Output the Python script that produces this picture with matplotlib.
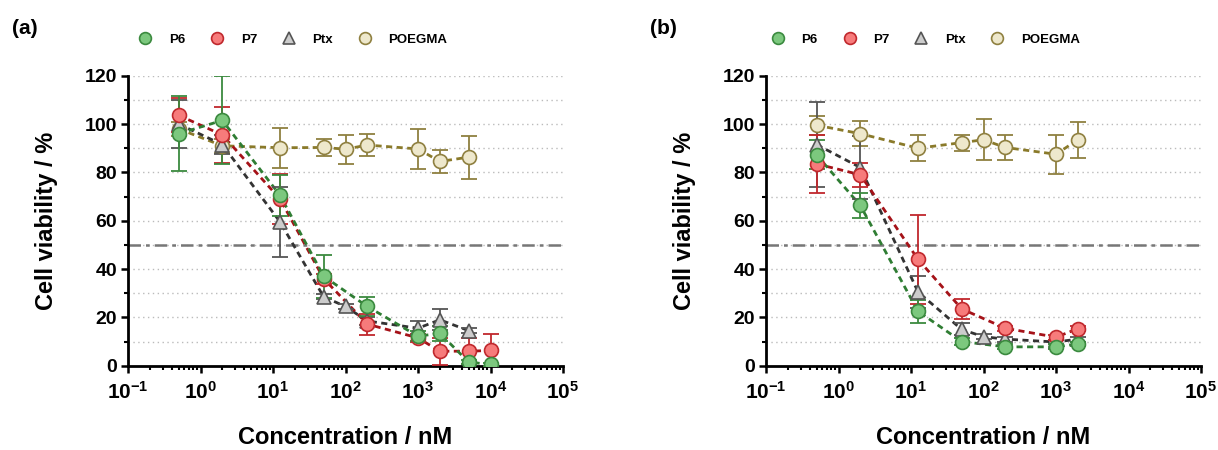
import numpy as np
import matplotlib
matplotlib.use("Agg")
import matplotlib.pyplot as plt
from matplotlib.lines import Line2D
from matplotlib.ticker import LogLocator, MultipleLocator, FuncFormatter

plt.rcParams["font.family"] = ["Liberation Sans", "DejaVu Sans"]
plt.rcParams["font.weight"] = "bold"
plt.rcParams["mathtext.fontset"] = "custom"
plt.rcParams["mathtext.rm"] = "Liberation Sans:bold"
plt.rcParams["mathtext.bf"] = "Liberation Sans:bold"
plt.rcParams["mathtext.default"] = "bf"

# ---- panel (a) data ----
conc_a_p = [0.5, 2, 12.5, 50, 200, 1000, 2000, 5000, 10000]
p6_a = [96, 101.5, 70.5, 37, 24.5, 12.2, 13.4, 1.5, 0.5]
p6_a_err = [15.5, 18.2, 8.6, 9, 4, 2, 3, 1, 0.5]
p7_a = [103.6, 95.5, 69, 36, 17.2, 11.5, 6, 6, 6.3]
p7_a_err = [7, 11.7, 10.5, 2, 4.4, 1.5, 5.6, 5.4, 6.7]
conc_a_ptx = [0.5, 2, 12.5, 50, 100, 200, 1000, 2000, 5000]
ptx_a = [100, 91.5, 59.5, 28.5, 24.5, 18.5, 15.5, 19, 14.5]
ptx_a_err = [10, 4, 14.5, 1, 1, 1.5, 3, 4.3, 1]
conc_a_peg = [0.5, 2, 12.5, 50, 100, 200, 1000, 2000, 5000]
peg_a = [98, 91, 90.2, 90.3, 89.6, 91.3, 89.7, 84.5, 86.3]
peg_a_err = [3, 3, 8.2, 3.5, 6, 4.5, 8.3, 4.6, 8.9]

# ---- panel (b) data ----
conc_b_p = [0.5, 2, 12.5, 50, 200, 1000, 2000]
p6_b = [87.2, 66.3, 22.5, 10, 7.8, 7.8, 9]
p6_b_err = [6, 5, 4.7, 1.5, 1, 1, 1]
p7_b = [83.5, 79, 44, 23.5, 15.5, 11.8, 15.3]
p7_b_err = [12, 5, 18.5, 4.3, 1, 1, 1]
conc_b_ptx = [0.5, 2, 12.5, 50, 100, 200, 1000, 2000]
ptx_b = [91.5, 82, 30.5, 15, 12, 11, 9.8, 11]
ptx_b_err = [17.5, 13, 6.5, 2.5, 1, 1, 1, 1]
conc_b_peg = [0.5, 2, 12.5, 50, 100, 200, 1000, 2000]
peg_b = [99.5, 96, 90, 92.3, 93.5, 90.3, 87.5, 93.5]
peg_b_err = [4, 5.2, 5.3, 3.3, 8.5, 5, 8, 7.5]

# styles: face, edge, line, marker
styles = {
    "P6": ("#7cc87e", "#3b8a3f", "#2f7d33", "o"),
    "P7": ("#f77b7b", "#c0282d", "#a51218", "o"),
    "Ptx": ("#cccccc", "#555555", "#333333", "^"),
    "POEGMA": ("#eee8cc", "#8f8040", "#8a7a2a", "o"),
}

fig = plt.figure(figsize=(12.18, 4.5), dpi=100)
ax_a = fig.add_axes([128 / 1218, 1 - 365.7 / 450, 435 / 1218, 290 / 450])
ax_b = fig.add_axes([766 / 1218, 1 - 365.7 / 450, 435 / 1218, 290 / 450])


def draw_series(ax, x, y, err, name):
    face, edge, line, mk = styles[name]
    ms = 10 if mk == "o" else 10.5
    ax.plot(x, y, linestyle=(0, (2.2, 1.6)), color=line, lw=2.0, zorder=3)
    ax.errorbar(x, y, yerr=err, fmt="none", ecolor=edge, elinewidth=1.3,
                capsize=5.5, capthick=1.3, zorder=4)
    ax.plot(x, y, linestyle="none", marker=mk, ms=ms, mfc=face, mec=edge,
            mew=1.2, zorder=5)


def log_label(v, pos):
    e = int(round(np.log10(v)))
    return "10$^{%d}$" % e


def style_axes(ax):
    ax.set_xscale("log")
    ax.set_xlim(0.1, 1e5)
    ax.set_ylim(0, 120)
    ax.yaxis.set_major_locator(MultipleLocator(20))
    ax.yaxis.set_minor_locator(MultipleLocator(10))
    ax.xaxis.set_major_locator(LogLocator(base=10, numticks=10))
    ax.xaxis.set_minor_locator(LogLocator(base=10, subs=np.arange(2, 10), numticks=10))
    ax.xaxis.set_major_formatter(FuncFormatter(log_label))
    for v in range(10, 121, 10):
        ax.axhline(v, color="#bbbbbb", lw=1.0, linestyle=(0, (1, 2.5)), zorder=1)
    ax.axhline(50, color="#777777", lw=1.8, linestyle=(0, (5, 2, 1.5, 2)), zorder=2)
    for s in ["top", "right"]:
        ax.spines[s].set_visible(False)
    for s in ["left", "bottom"]:
        ax.spines[s].set_linewidth(2.0)
    ax.tick_params(which="major", direction="out", length=5, width=1.8,
                   labelsize=14, pad=3)
    ax.tick_params(which="minor", direction="out", length=3, width=1.5)
    ax.tick_params(axis="x", which="major", labelsize=15, pad=6)
    for lbl in ax.get_yticklabels():
        lbl.set_fontweight("bold")
    ax.set_xlabel("Concentration / nM", fontsize=17, fontweight="bold", labelpad=17)
    ax.set_ylabel("Cell viability / %", fontsize=17, fontweight="bold", labelpad=19)


for ax, data in [
    (ax_a, [(conc_a_peg, peg_a, peg_a_err, "POEGMA"),
            (conc_a_ptx, ptx_a, ptx_a_err, "Ptx"),
            (conc_a_p, p7_a, p7_a_err, "P7"),
            (conc_a_p, p6_a, p6_a_err, "P6")]),
    (ax_b, [(conc_b_peg, peg_b, peg_b_err, "POEGMA"),
            (conc_b_ptx, ptx_b, ptx_b_err, "Ptx"),
            (conc_b_p, p7_b, p7_b_err, "P7"),
            (conc_b_p, p6_b, p6_b_err, "P6")]),
]:
    for x, y, e, name in data:
        draw_series(ax, x, y, e, name)
    style_axes(ax)

# legends
handles = []
for name in ["P6", "P7", "Ptx", "POEGMA"]:
    face, edge, line, mk = styles[name]
    handles.append(Line2D([], [], linestyle="none", marker=mk, ms=8.5,
                          mfc=face, mec=edge, mew=1.2, label=name))
for cx in [0.2406, 0.760]:
    fig.legend(handles=handles, loc="center", bbox_to_anchor=(cx, 1 - 40 / 450),
               ncol=4, frameon=False, prop={"weight": "bold", "size": 9.5},
               handletextpad=1.3, columnspacing=1.9, handlelength=1.0)

fig.text(12 / 1218, 1 - 28 / 450, "(a)", fontsize=15, fontweight="bold", va="center")
fig.text(650 / 1218, 1 - 28 / 450, "(b)", fontsize=15, fontweight="bold", va="center")

fig.savefig("out.png", dpi=100)
